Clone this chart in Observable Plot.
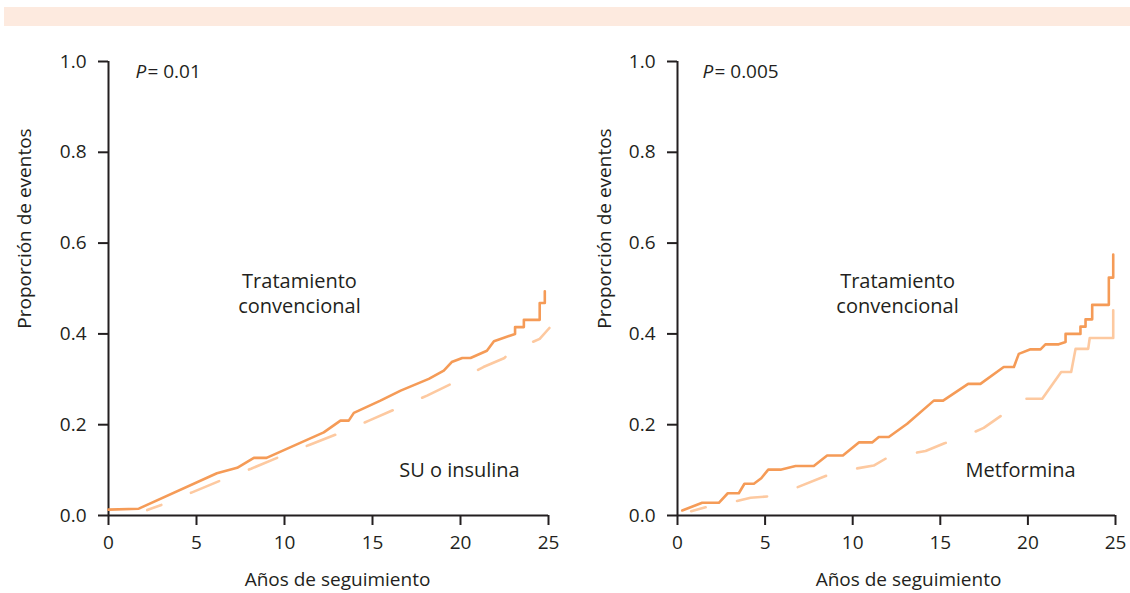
<!DOCTYPE html>
<html><head><meta charset="utf-8">
<script src="https://cdn.jsdelivr.net/npm/d3@7"></script>
<script src="https://cdn.jsdelivr.net/npm/@observablehq/plot@0.6"></script>
<style>
body{margin:0;background:#fff;}
#wrap{position:relative;width:1130px;height:593px;overflow:hidden;background:#fff;}
#band{position:absolute;left:4px;top:7px;width:1126px;height:19px;background:#fdeadf;}
.panel{position:absolute;top:0;}
</style></head><body>
<div id="wrap"><div id="band"></div></div>
<script>
// ---- data ----
const xTicks = [0, 5, 10, 15, 20, 25];
const yTicks = [0, 0.2, 0.4, 0.6, 0.8, 1.0];

// Panel A: Tratamiento convencional vs SU o insulina
const convA_x = [0, 1.72, 6.16, 7.31, 8.26, 8.98, 12.23, 13.18, 13.65, 13.94, 15.45, 16.6, 18.2, 19.05, 19.5, 20.1, 20.57, 21.5, 21.9, 23.1, 23.1, 23.6, 23.6, 24.5, 24.5, 24.79, 24.79];
const convA_y = [0.013, 0.015, 0.093, 0.105, 0.127, 0.127, 0.183, 0.209, 0.209, 0.226, 0.253, 0.275, 0.301, 0.319, 0.338, 0.347, 0.347, 0.363, 0.384, 0.400, 0.415, 0.415, 0.431, 0.431, 0.468, 0.468, 0.494];
const suA_x = [2.2, 3.05, 4.75, 6.36, 8.1, 9.77, 11.44, 13.1, 14.8, 16.4, 18.1, 19.7, 21.3, 22.5, 22.8, 24.5, 25.05];
const suA_y = [0.012, 0.024, 0.051, 0.077, 0.103, 0.130, 0.156, 0.181, 0.209, 0.236, 0.264, 0.294, 0.327, 0.347, 0.360, 0.389, 0.413];

// Panel B: Tratamiento convencional vs Metformina
const convB_x = [0.27, 1.41, 2.36, 2.87, 3.5, 3.82, 4.36, 4.78, 5.18, 5.88, 6.74, 7.78, 8.54, 9.44, 10.35, 11.11, 11.49, 12.06, 13.11, 14.63, 15.16, 16.59, 17.29, 18.62, 19.2, 19.48, 20.15, 20.72, 21.0, 21.76, 22.15, 22.15, 23.0, 23.0, 23.29, 23.29, 23.67, 23.67, 24.62, 24.62, 24.87, 24.87];
const convB_y = [0.011, 0.028, 0.028, 0.049, 0.049, 0.070, 0.070, 0.082, 0.101, 0.101, 0.109, 0.109, 0.132, 0.132, 0.161, 0.161, 0.173, 0.173, 0.202, 0.253, 0.253, 0.290, 0.290, 0.327, 0.327, 0.356, 0.366, 0.366, 0.377, 0.377, 0.382, 0.400, 0.400, 0.416, 0.416, 0.432, 0.432, 0.464, 0.464, 0.524, 0.524, 0.575];
const metB_x = [0.78, 1.6, 3.4, 4.17, 5.12, 6.83, 8.45, 10.22, 11.2, 11.87, 13.58, 14.16, 15.24, 16.9, 17.48, 18.44, 19.92, 20.82, 21.9, 22.47, 22.72, 23.44, 23.53, 24.87, 24.87];
const metB_y = [0.0095, 0.018, 0.032, 0.039, 0.042, 0.062, 0.087, 0.1035, 0.110, 0.125, 0.138, 0.142, 0.159, 0.183, 0.193, 0.219, 0.257, 0.257, 0.316, 0.316, 0.367, 0.367, 0.391, 0.391, 0.452];

const pValues = ["= 0.01", "= 0.005"];
const groupLabels = ["SU o insulina", "Metformina"];
const convLabel = "Tratamiento\nconvencional";
const xLabel = "Años de seguimiento";
const yLabel = "Proporción de eventos";

// ---- drawing ----
const ink = "#231f20";
const solidColor = "#f59b57";
const lightColor = "#fdc9a0";
const zip = (xs, ys) => xs.map((x, i) => ({x, y: ys[i]}));

function panel(o) {
  const conv = zip(o.convX, o.convY);
  const other = zip(o.otherX, o.otherY);
  const dashedPart = other.filter(d => d.x < o.solidFrom);
  const solidPart = other.filter(d => d.x >= o.solidFrom);
  return Plot.plot({
    width: 565, height: 593,
    marginLeft: o.marginLeft, marginRight: o.marginRight, marginTop: 61, marginBottom: 78,
    x: {domain: [0, 25]},
    y: {domain: [0, 1]},
    style: {fontFamily: "'Open Sans', sans-serif", fontSize: "19px", color: ink, background: "transparent"},
    marks: [
      Plot.ruleX([0], {y1: 0, y2: 1, stroke: ink, strokeWidth: 2}),
      Plot.ruleY([0], {x1: 0, x2: 25, stroke: ink, strokeWidth: 2}),
      Plot.axisY(yTicks, {tickSize: 10, tickPadding: 12, tickFormat: d3.format(".1f"), strokeWidth: 2, label: null, fill: ink}),
      Plot.axisX(xTicks, {tickSize: 10, tickPadding: 10, strokeWidth: 2, label: null, fill: ink}),
      Plot.line(dashedPart, {x: "x", y: "y", stroke: o.otherColor, strokeWidth: 2.6, strokeDasharray: "30.5,32", strokeDashoffset: 15.5}),
      solidPart.length ? Plot.line(solidPart, {x: "x", y: "y", stroke: o.otherColor, strokeWidth: 2.6}) : null,
      Plot.line(conv, {x: "x", y: "y", stroke: solidColor, strokeWidth: 2.6}),
      Plot.text(["P"], {x: () => o.pX, y: () => 0.976, textAnchor: "start", fontStyle: "italic", fill: ink, fontSize: 19}),
      Plot.text([o.pText], {x: () => o.pX + 0.68, y: () => 0.976, textAnchor: "start", fill: ink, fontSize: 19}),
      Plot.text([convLabel], {x: () => o.convLabelX, y: () => 0.492, textAnchor: "middle", lineAnchor: "middle", lineHeight: 1.25, fill: ink, fontSize: 20}),
      Plot.text([o.groupLabel], {x: () => o.groupLabelX, y: () => 0.098, textAnchor: "middle", fill: ink, fontSize: 20}),
      Plot.text([xLabel], {frameAnchor: "bottom", dx: o.xLabelDx, dy: 64, lineAnchor: "middle", fill: ink, fontSize: 19}),
      Plot.text([yLabel], {frameAnchor: "left", dx: o.yLabelDx, dy: -60, rotate: -90, lineAnchor: "middle", textAnchor: "middle", fill: ink, fontSize: 19})
    ]
  });
}

const wrap = document.getElementById("wrap");
const left = panel({
  convX: convA_x, convY: convA_y, otherX: suA_x, otherY: suA_y, solidFrom: 99,
  otherColor: lightColor, marginLeft: 108, marginRight: 17,
  pX: 1.53, pText: pValues[0], convLabelX: 10.85, groupLabel: groupLabels[0], groupLabelX: 19.94,
  yLabelDx: -84, xLabelDx: 9
});
left.classList.add("panel"); left.style.left = "0px";
wrap.appendChild(left);

const right = panel({
  convX: convB_x, convY: convB_y, otherX: metB_x, otherY: metB_y, solidFrom: 19.5,
  otherColor: lightColor, marginLeft: 112, marginRight: 15,
  pX: 1.43, pText: pValues[1], convLabelX: 12.56, groupLabel: groupLabels[1], groupLabelX: 19.58,
  yLabelDx: -73, xLabelDx: 12
});
right.classList.add("panel"); right.style.left = "565px";
wrap.appendChild(right);
</script>
</body></html>
